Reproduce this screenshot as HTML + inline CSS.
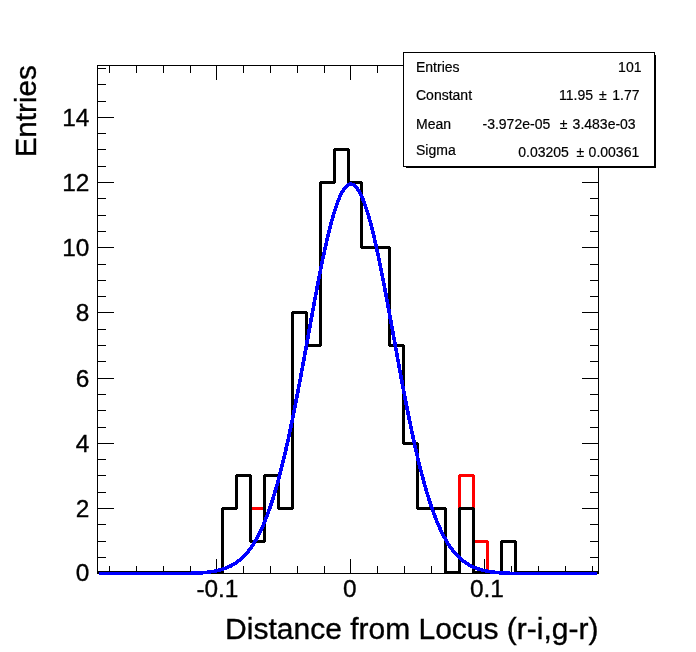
<!DOCTYPE html>
<html><head><meta charset="utf-8"><title>Distance from Locus</title>
<style>html,body{margin:0;padding:0;background:#fff}svg{display:block}text{font-family:"Liberation Sans",Arial,Helvetica,sans-serif;fill:#000}</style></head><body>
<svg width="696" height="652" viewBox="0 0 696 652">
<rect width="696" height="652" fill="#fff"/>
<g shape-rendering="crispEdges" fill="#000">
<rect x="97" y="65" width="502" height="1"/>
<rect x="97" y="573" width="502" height="1"/>
<rect x="97" y="65" width="1" height="509"/>
<rect x="598" y="65" width="1" height="509"/>
<rect x="109" y="566" width="1" height="8"/>
<rect x="109" y="65" width="1" height="8"/>
<rect x="136" y="566" width="1" height="8"/>
<rect x="136" y="65" width="1" height="8"/>
<rect x="163" y="566" width="1" height="8"/>
<rect x="163" y="65" width="1" height="8"/>
<rect x="190" y="566" width="1" height="8"/>
<rect x="190" y="65" width="1" height="8"/>
<rect x="216" y="559" width="1" height="15"/>
<rect x="216" y="65" width="1" height="15"/>
<rect x="243" y="566" width="1" height="8"/>
<rect x="243" y="65" width="1" height="8"/>
<rect x="270" y="566" width="1" height="8"/>
<rect x="270" y="65" width="1" height="8"/>
<rect x="297" y="566" width="1" height="8"/>
<rect x="297" y="65" width="1" height="8"/>
<rect x="324" y="566" width="1" height="8"/>
<rect x="324" y="65" width="1" height="8"/>
<rect x="350" y="559" width="1" height="15"/>
<rect x="350" y="65" width="1" height="15"/>
<rect x="377" y="566" width="1" height="8"/>
<rect x="377" y="65" width="1" height="8"/>
<rect x="404" y="566" width="1" height="8"/>
<rect x="404" y="65" width="1" height="8"/>
<rect x="431" y="566" width="1" height="8"/>
<rect x="431" y="65" width="1" height="8"/>
<rect x="458" y="566" width="1" height="8"/>
<rect x="458" y="65" width="1" height="8"/>
<rect x="484" y="559" width="1" height="15"/>
<rect x="484" y="65" width="1" height="15"/>
<rect x="511" y="566" width="1" height="8"/>
<rect x="511" y="65" width="1" height="8"/>
<rect x="538" y="566" width="1" height="8"/>
<rect x="538" y="65" width="1" height="8"/>
<rect x="565" y="566" width="1" height="8"/>
<rect x="565" y="65" width="1" height="8"/>
<rect x="592" y="566" width="1" height="8"/>
<rect x="592" y="65" width="1" height="8"/>
<rect x="97" y="573" width="17" height="1"/>
<rect x="582" y="573" width="17" height="1"/>
<rect x="97" y="557" width="9" height="1"/>
<rect x="590" y="557" width="9" height="1"/>
<rect x="97" y="541" width="9" height="1"/>
<rect x="590" y="541" width="9" height="1"/>
<rect x="97" y="524" width="9" height="1"/>
<rect x="590" y="524" width="9" height="1"/>
<rect x="97" y="508" width="17" height="1"/>
<rect x="582" y="508" width="17" height="1"/>
<rect x="97" y="492" width="9" height="1"/>
<rect x="590" y="492" width="9" height="1"/>
<rect x="97" y="475" width="9" height="1"/>
<rect x="590" y="475" width="9" height="1"/>
<rect x="97" y="459" width="9" height="1"/>
<rect x="590" y="459" width="9" height="1"/>
<rect x="97" y="443" width="17" height="1"/>
<rect x="582" y="443" width="17" height="1"/>
<rect x="97" y="427" width="9" height="1"/>
<rect x="590" y="427" width="9" height="1"/>
<rect x="97" y="410" width="9" height="1"/>
<rect x="590" y="410" width="9" height="1"/>
<rect x="97" y="394" width="9" height="1"/>
<rect x="590" y="394" width="9" height="1"/>
<rect x="97" y="378" width="17" height="1"/>
<rect x="582" y="378" width="17" height="1"/>
<rect x="97" y="361" width="9" height="1"/>
<rect x="590" y="361" width="9" height="1"/>
<rect x="97" y="345" width="9" height="1"/>
<rect x="590" y="345" width="9" height="1"/>
<rect x="97" y="329" width="9" height="1"/>
<rect x="590" y="329" width="9" height="1"/>
<rect x="97" y="312" width="17" height="1"/>
<rect x="582" y="312" width="17" height="1"/>
<rect x="97" y="296" width="9" height="1"/>
<rect x="590" y="296" width="9" height="1"/>
<rect x="97" y="280" width="9" height="1"/>
<rect x="590" y="280" width="9" height="1"/>
<rect x="97" y="264" width="9" height="1"/>
<rect x="590" y="264" width="9" height="1"/>
<rect x="97" y="247" width="17" height="1"/>
<rect x="582" y="247" width="17" height="1"/>
<rect x="97" y="231" width="9" height="1"/>
<rect x="590" y="231" width="9" height="1"/>
<rect x="97" y="215" width="9" height="1"/>
<rect x="590" y="215" width="9" height="1"/>
<rect x="97" y="198" width="9" height="1"/>
<rect x="590" y="198" width="9" height="1"/>
<rect x="97" y="182" width="17" height="1"/>
<rect x="582" y="182" width="17" height="1"/>
<rect x="97" y="166" width="9" height="1"/>
<rect x="590" y="166" width="9" height="1"/>
<rect x="97" y="149" width="9" height="1"/>
<rect x="590" y="149" width="9" height="1"/>
<rect x="97" y="133" width="9" height="1"/>
<rect x="590" y="133" width="9" height="1"/>
<rect x="97" y="117" width="17" height="1"/>
<rect x="582" y="117" width="17" height="1"/>
<rect x="97" y="101" width="9" height="1"/>
<rect x="590" y="101" width="9" height="1"/>
<rect x="97" y="84" width="9" height="1"/>
<rect x="590" y="84" width="9" height="1"/>
<rect x="97" y="68" width="9" height="1"/>
<rect x="590" y="68" width="9" height="1"/>
</g>
<polyline points="97.5,572.5 222.5,572.5 222.5,508.5 236.5,508.5 236.5,475.5 250.5,475.5 250.5,508.5 264.5,508.5 264.5,475.5 278.5,475.5 278.5,508.5 292.5,508.5 292.5,312.5 306.5,312.5 306.5,345.5 320.5,345.5 320.5,182.5 334.5,182.5 334.5,149.5 348.5,149.5 348.5,182.5 361.5,182.5 361.5,247.5 375.5,247.5 389.5,247.5 389.5,345.5 403.5,345.5 403.5,443.5 417.5,443.5 417.5,508.5 431.5,508.5 445.5,508.5 445.5,572.5 459.5,572.5 459.5,475.5 473.5,475.5 473.5,541.5 487.5,541.5 487.5,572.5 501.5,572.5 501.5,541.5 515.5,541.5 515.5,572.5 597.5,572.5" fill="none" stroke="#ff0000" stroke-width="3" stroke-linejoin="bevel" shape-rendering="crispEdges"/>
<polyline points="97.5,572.5 222.5,572.5 222.5,508.5 236.5,508.5 236.5,475.5 250.5,475.5 250.5,541.5 264.5,541.5 264.5,475.5 278.5,475.5 278.5,508.5 292.5,508.5 292.5,312.5 306.5,312.5 306.5,345.5 320.5,345.5 320.5,182.5 334.5,182.5 334.5,149.5 348.5,149.5 348.5,182.5 361.5,182.5 361.5,247.5 375.5,247.5 389.5,247.5 389.5,345.5 403.5,345.5 403.5,443.5 417.5,443.5 417.5,508.5 431.5,508.5 445.5,508.5 445.5,572.5 459.5,572.5 459.5,508.5 473.5,508.5 473.5,572.5 487.5,572.5 501.5,572.5 501.5,541.5 515.5,541.5 515.5,572.5 597.5,572.5" fill="none" stroke="#000" stroke-width="3" stroke-linejoin="bevel" shape-rendering="crispEdges"/>
<polyline points="99.0,573.50 100.0,573.50 101.0,573.50 102.0,573.50 103.0,573.50 104.0,573.50 105.0,573.50 106.0,573.50 107.0,573.50 108.0,573.50 109.0,573.50 110.0,573.50 111.0,573.50 112.0,573.50 113.0,573.50 114.0,573.50 115.0,573.50 116.0,573.50 117.0,573.50 118.0,573.50 119.0,573.50 120.0,573.50 121.0,573.50 122.0,573.50 123.0,573.50 124.0,573.50 125.0,573.50 126.0,573.50 127.0,573.50 128.0,573.50 129.0,573.50 130.0,573.50 131.0,573.50 132.0,573.50 133.0,573.50 134.0,573.50 135.0,573.50 136.0,573.50 137.0,573.50 138.0,573.50 139.0,573.50 140.0,573.50 141.0,573.50 142.0,573.50 143.0,573.50 144.0,573.50 145.0,573.50 146.0,573.50 147.0,573.50 148.0,573.50 149.0,573.50 150.0,573.50 151.0,573.50 152.0,573.50 153.0,573.50 154.0,573.50 155.0,573.50 156.0,573.50 157.0,573.50 158.0,573.50 159.0,573.50 160.0,573.50 161.0,573.50 162.0,573.50 163.0,573.50 164.0,573.50 165.0,573.50 166.0,573.50 167.0,573.50 168.0,573.50 169.0,573.50 170.0,573.50 171.0,573.50 172.0,573.50 173.0,573.50 174.0,573.50 175.0,573.50 176.0,573.50 177.0,573.50 178.0,573.50 179.0,573.50 180.0,573.50 181.0,573.50 182.0,573.50 183.0,573.50 184.0,573.49 185.0,573.47 186.0,573.45 187.0,573.43 188.0,573.41 189.0,573.38 190.0,573.35 191.0,573.32 192.0,573.28 193.0,573.25 194.0,573.21 195.0,573.16 196.0,573.11 197.0,573.06 198.0,573.01 199.0,572.95 200.0,572.88 201.0,572.81 202.0,572.74 203.0,572.66 204.0,572.57 205.0,572.48 206.0,572.38 207.0,572.27 208.0,572.16 209.0,572.03 210.0,571.90 211.0,571.76 212.0,571.61 213.0,571.44 214.0,571.27 215.0,571.08 216.0,570.88 217.0,570.67 218.0,570.44 219.0,570.20 220.0,569.94 221.0,569.67 222.0,569.37 223.0,569.06 224.0,568.73 225.0,568.38 226.0,568.00 227.0,567.61 228.0,567.19 229.0,566.74 230.0,566.27 231.0,565.76 232.0,565.23 233.0,564.67 234.0,564.08 235.0,563.45 236.0,562.79 237.0,562.09 238.0,561.36 239.0,560.58 240.0,559.77 241.0,558.91 242.0,558.01 243.0,557.06 244.0,556.06 245.0,555.01 246.0,553.91 247.0,552.76 248.0,551.55 249.0,550.29 250.0,548.97 251.0,547.59 252.0,546.14 253.0,544.63 254.0,543.06 255.0,541.41 256.0,539.70 257.0,537.91 258.0,536.06 259.0,534.12 260.0,532.11 261.0,530.03 262.0,527.86 263.0,525.61 264.0,523.28 265.0,520.86 266.0,518.36 267.0,515.77 268.0,513.09 269.0,510.32 270.0,507.47 271.0,504.52 272.0,501.48 273.0,498.34 274.0,495.12 275.0,491.79 276.0,488.38 277.0,484.87 278.0,481.27 279.0,477.57 280.0,473.78 281.0,469.89 282.0,465.92 283.0,461.85 284.0,457.69 285.0,453.44 286.0,449.10 287.0,444.68 288.0,440.17 289.0,435.58 290.0,430.91 291.0,426.16 292.0,421.33 293.0,416.44 294.0,411.47 295.0,406.44 296.0,401.34 297.0,396.19 298.0,390.98 299.0,385.72 300.0,380.41 301.0,375.06 302.0,369.68 303.0,364.26 304.0,358.81 305.0,353.34 306.0,347.86 307.0,342.36 308.0,336.86 309.0,331.36 310.0,325.87 311.0,320.39 312.0,314.93 313.0,309.49 314.0,304.08 315.0,298.72 316.0,293.40 317.0,288.13 318.0,282.92 319.0,277.78 320.0,272.70 321.0,267.71 322.0,262.80 323.0,257.99 324.0,253.27 325.0,248.66 326.0,244.16 327.0,239.79 328.0,235.53 329.0,231.41 330.0,227.42 331.0,223.58 332.0,219.89 333.0,216.36 334.0,212.98 335.0,209.77 336.0,206.73 337.0,203.86 338.0,201.18 339.0,198.67 340.0,196.36 341.0,194.24 342.0,192.31 343.0,190.58 344.0,189.05 345.0,187.72 346.0,186.60 347.0,185.69 348.0,184.98 349.0,184.49 350.0,184.21 351.0,184.13 352.0,184.27 353.0,184.62 354.0,185.18 355.0,185.95 356.0,186.92 357.0,188.11 358.0,189.50 359.0,191.09 360.0,192.88 361.0,194.87 362.0,197.05 363.0,199.42 364.0,201.98 365.0,204.72 366.0,207.64 367.0,210.73 368.0,214.00 369.0,217.42 370.0,221.01 371.0,224.75 372.0,228.63 373.0,232.66 374.0,236.82 375.0,241.11 376.0,245.53 377.0,250.06 378.0,254.71 379.0,259.45 380.0,264.30 381.0,269.23 382.0,274.25 383.0,279.34 384.0,284.51 385.0,289.74 386.0,295.02 387.0,300.36 388.0,305.74 389.0,311.15 390.0,316.60 391.0,322.07 392.0,327.55 393.0,333.05 394.0,338.55 395.0,344.05 396.0,349.54 397.0,355.02 398.0,360.48 399.0,365.92 400.0,371.33 401.0,376.71 402.0,382.04 403.0,387.34 404.0,392.58 405.0,397.77 406.0,402.91 407.0,407.99 408.0,413.00 409.0,417.94 410.0,422.82 411.0,427.62 412.0,432.35 413.0,436.99 414.0,441.56 415.0,446.04 416.0,450.44 417.0,454.75 418.0,458.97 419.0,463.10 420.0,467.14 421.0,471.09 422.0,474.95 423.0,478.71 424.0,482.38 425.0,485.96 426.0,489.44 427.0,492.82 428.0,496.11 429.0,499.31 430.0,502.42 431.0,505.43 432.0,508.35 433.0,511.18 434.0,513.92 435.0,516.57 436.0,519.14 437.0,521.61 438.0,524.00 439.0,526.31 440.0,528.53 441.0,530.68 442.0,532.74 443.0,534.72 444.0,536.63 445.0,538.47 446.0,540.23 447.0,541.92 448.0,543.55 449.0,545.10 450.0,546.59 451.0,548.02 452.0,549.38 453.0,550.68 454.0,551.93 455.0,553.12 456.0,554.25 457.0,555.34 458.0,556.37 459.0,557.35 460.0,558.29 461.0,559.18 462.0,560.02 463.0,560.83 464.0,561.59 465.0,562.31 466.0,563.00 467.0,563.65 468.0,564.26 469.0,564.85 470.0,565.40 471.0,565.92 472.0,566.41 473.0,566.88 474.0,567.32 475.0,567.73 476.0,568.12 477.0,568.49 478.0,568.83 479.0,569.16 480.0,569.47 481.0,569.75 482.0,570.02 483.0,570.28 484.0,570.51 485.0,570.74 486.0,570.95 487.0,571.14 488.0,571.32 489.0,571.49 490.0,571.65 491.0,571.80 492.0,571.94 493.0,572.07 494.0,572.19 495.0,572.31 496.0,572.41 497.0,572.51 498.0,572.60 499.0,572.68 500.0,572.76 501.0,572.84 502.0,572.90 503.0,572.97 504.0,573.03 505.0,573.08 506.0,573.13 507.0,573.18 508.0,573.22 509.0,573.26 510.0,573.29 511.0,573.33 512.0,573.36 513.0,573.39 514.0,573.41 515.0,573.44 516.0,573.46 517.0,573.48 518.0,573.50 519.0,573.50 520.0,573.50 521.0,573.50 522.0,573.50 523.0,573.50 524.0,573.50 525.0,573.50 526.0,573.50 527.0,573.50 528.0,573.50 529.0,573.50 530.0,573.50 531.0,573.50 532.0,573.50 533.0,573.50 534.0,573.50 535.0,573.50 536.0,573.50 537.0,573.50 538.0,573.50 539.0,573.50 540.0,573.50 541.0,573.50 542.0,573.50 543.0,573.50 544.0,573.50 545.0,573.50 546.0,573.50 547.0,573.50 548.0,573.50 549.0,573.50 550.0,573.50 551.0,573.50 552.0,573.50 553.0,573.50 554.0,573.50 555.0,573.50 556.0,573.50 557.0,573.50 558.0,573.50 559.0,573.50 560.0,573.50 561.0,573.50 562.0,573.50 563.0,573.50 564.0,573.50 565.0,573.50 566.0,573.50 567.0,573.50 568.0,573.50 569.0,573.50 570.0,573.50 571.0,573.50 572.0,573.50 573.0,573.50 574.0,573.50 575.0,573.50 576.0,573.50 577.0,573.50 578.0,573.50 579.0,573.50 580.0,573.50 581.0,573.50 582.0,573.50 583.0,573.50 584.0,573.50 585.0,573.50 586.0,573.50 587.0,573.50 588.0,573.50 589.0,573.50 590.0,573.50 591.0,573.50 592.0,573.50 593.0,573.50 594.0,573.50 595.0,573.50 596.0,573.50 597.0,573.50" fill="none" stroke="#0000ff" stroke-width="3.6" stroke-linejoin="round" shape-rendering="crispEdges"/>
<text x="196.4" y="596.9" font-size="24.4" stroke="#000" stroke-width="0.35">-0.1</text>
<text x="342.9" y="596.9" font-size="24.4" stroke="#000" stroke-width="0.35">0</text>
<text x="469.9" y="596.9" font-size="24.4" stroke="#000" stroke-width="0.35">0.1</text>
<text x="89.4" y="581.2" font-size="24.4" text-anchor="end" stroke="#000" stroke-width="0.35">0</text>
<text x="89.4" y="517.0" font-size="24.4" text-anchor="end" stroke="#000" stroke-width="0.35">2</text>
<text x="89.4" y="452.0" font-size="24.4" text-anchor="end" stroke="#000" stroke-width="0.35">4</text>
<text x="89.4" y="387.0" font-size="24.4" text-anchor="end" stroke="#000" stroke-width="0.35">6</text>
<text x="89.4" y="321.0" font-size="24.4" text-anchor="end" stroke="#000" stroke-width="0.35">8</text>
<text x="89.4" y="256.0" font-size="24.4" text-anchor="end" stroke="#000" stroke-width="0.35">10</text>
<text x="89.4" y="191.0" font-size="24.4" text-anchor="end" stroke="#000" stroke-width="0.35">12</text>
<text x="89.4" y="126.0" font-size="24.4" text-anchor="end" stroke="#000" stroke-width="0.35">14</text>
<text x="598.5" y="638.8" font-size="30" text-anchor="end" stroke="#000" stroke-width="0.35">Distance from Locus (r-i,g-r)</text>
<text transform="translate(36.3,65.3) rotate(-90) scale(1,1.02)" font-size="29.6" text-anchor="end" stroke="#000" stroke-width="0.35">Entries</text>
<g shape-rendering="crispEdges">
<rect x="406" y="55" width="250" height="113" fill="#000"/>
<rect x="403" y="52" width="252" height="115" fill="#000"/>
<rect x="404" y="53" width="250" height="113" fill="#fff"/>
</g>
<g font-size="14" stroke="#000" stroke-width="0.2">
<text x="416.0" y="71.8">Entries</text>
<text x="416.0" y="99.7">Constant</text>
<text x="416.0" y="128.7">Mean</text>
<text x="416.0" y="154.8">Sigma</text>
<text x="618.1" y="71.8">101</text>
<text x="559.0" y="99.7">11.95</text>
<text x="598.9" y="99.7">±</text>
<text x="612.3" y="99.7">1.77</text>
<text x="482.5" y="128.7">-3.972e-05</text>
<text x="559.8" y="128.7">±</text>
<text x="572.6" y="128.7">3.483e-03</text>
<text x="518.3" y="156.8">0.03205</text>
<text x="576.4" y="156.8">±</text>
<text x="588.6" y="156.8">0.00361</text>
</g>
</svg></body></html>
